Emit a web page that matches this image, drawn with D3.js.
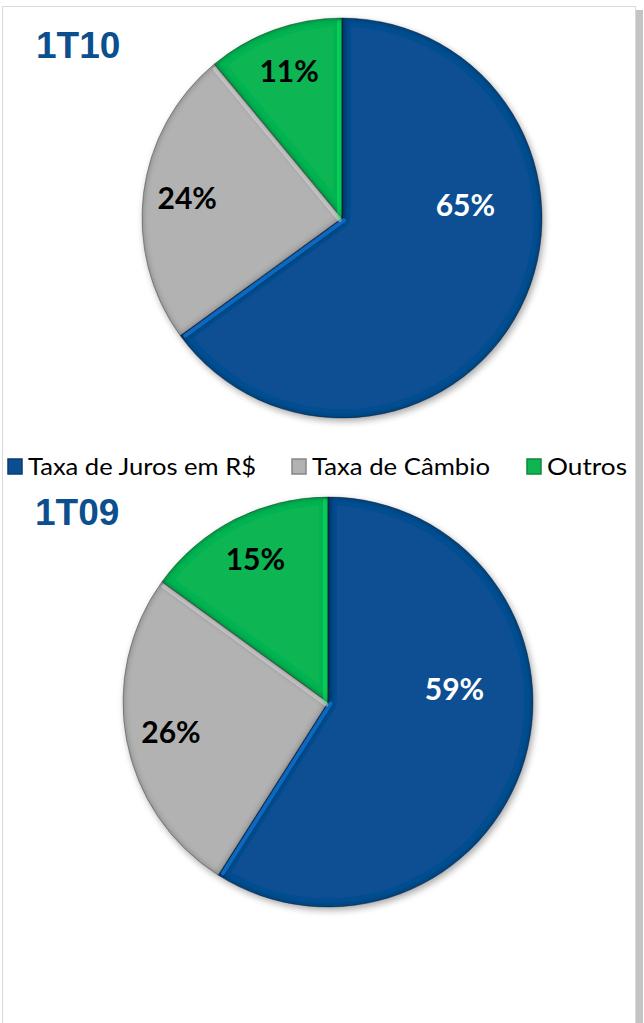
<!DOCTYPE html>
<html>
<head>
<meta charset="utf-8">
<script src="https://cdn.jsdelivr.net/npm/d3@7"></script>
<style>
  body { margin: 0; background: #fff; }
  svg { display: block; }
</style>
</head>
<body>
<svg id="chart" width="644" height="1023"></svg>
<script>
// categories and values
const categories = ["Taxa de Juros em R$", "Taxa de Câmbio", "Outros"];
const colors = ["#0b4f92", "#b2b2b2", "#10b552"];
const labelColors = ["#ffffff", "#000000", "#000000"];
const periods = ["1T10", "1T09"];
const values1T10 = [65, 24, 11];
const values1T09 = [59, 26, 15];

const svg = d3.select("#chart");
const defs = svg.append("defs");

// drop shadow + inner edge darkening, rough stand-in for the excel bevel
const f = defs.append("filter").attr("id", "bevel")
  .attr("x", "-10%").attr("y", "-10%").attr("width", "120%").attr("height", "120%");
f.append("feGaussianBlur").attr("in", "SourceAlpha").attr("stdDeviation", 3.5).attr("result", "blur");
f.append("feComposite").attr("in", "SourceAlpha").attr("in2", "blur").attr("operator", "out").attr("result", "edge");
f.append("feFlood").attr("flood-color", "#000").attr("flood-opacity", 0.7).attr("result", "dark");
f.append("feComposite").attr("in", "dark").attr("in2", "edge").attr("operator", "in").attr("result", "inner");
f.append("feOffset").attr("in", "blur").attr("dx", 2).attr("dy", 3).attr("result", "off");
f.append("feComponentTransfer").attr("in", "off").attr("result", "shadow")
  .append("feFuncA").attr("type", "linear").attr("slope", 0.35);
const m = f.append("feMerge");
m.append("feMergeNode").attr("in", "shadow");
m.append("feMergeNode").attr("in", "SourceGraphic");
m.append("feMergeNode").attr("in", "inner");

// outer frame with shadow on the right
svg.append("rect").attr("x", 636).attr("y", 10).attr("width", 7).attr("height", 1013)
  .attr("fill", "#c4c4c4");
svg.append("rect").attr("x", 2.5).attr("y", 6.5).attr("width", 633).attr("height", 1030)
  .attr("fill", "#fff").attr("stroke", "#d9d9d9").attr("stroke-width", 1);

const pie = d3.pie().sort(null).value(d => d);

function drawPie(values, title, cx, cy, r, titleX, titleY) {
  const g = svg.append("g").attr("transform", `translate(${cx},${cy})`);
  const arcs = pie(values);
  const arc = d3.arc().innerRadius(0).outerRadius(r);

  g.selectAll("path.slice")
    .data(arcs)
    .enter()
    .append("path")
    .attr("class", "slice")
    .attr("d", arc)
    .attr("fill", (d, i) => colors[i])
    .attr("stroke", "rgba(0,0,0,0.25)")
    .attr("stroke-width", 1)
    .attr("filter", "url(#bevel)");

  // light highlight on the leading edge of each slice
  g.selectAll("line.hl")
    .data(arcs)
    .enter()
    .append("line")
    .attr("class", "hl")
    .attr("x1", 0).attr("y1", 0)
    .attr("x2", d => Math.sin(d.endAngle) * (r - 4))
    .attr("y2", d => -Math.cos(d.endAngle) * (r - 4))
    .attr("stroke", (d, i) => d3.color(colors[i]).brighter(0.9))
    .attr("stroke-width", 4)
    .attr("stroke-linecap", "round")
    .attr("opacity", (d, i) => i === 0 ? 0.9 : 0.4)
    .attr("transform", d => {
      const a = d.endAngle - 0.03;
      return `translate(${Math.sin(a + Math.PI / 2) * -3},${-Math.cos(a + Math.PI / 2) * -3})`;
    });

  g.selectAll("text.lbl")
    .data(arcs)
    .enter()
    .append("text")
    .attr("class", "lbl")
    .attr("transform", d => {
      const big = d.endAngle - d.startAngle > Math.PI;
      const a = big ? Math.PI / 2 - 0.1 : (d.startAngle + d.endAngle) / 2;
      const rr = big ? r * 0.62 : r * 0.78;
      return `translate(${Math.sin(a) * rr},${-Math.cos(a) * rr})`;
    })
    .attr("text-anchor", "middle")
    .attr("dy", "0.36em")
    .attr("fill", (d, i) => labelColors[i])
    .style("font-family", "Lato, 'Open Sans', sans-serif")
    .style("font-weight", "bold")
    .style("font-size", "30px")
    .text(d => d.data + "%");

  svg.append("text")
    .attr("x", titleX).attr("y", titleY)
    .attr("fill", "#0b4f8f")
    .style("font-family", "'Liberation Sans', Arial, sans-serif")
    .style("font-weight", "bold")
    .style("font-size", "37px")
    .text(title);
}

drawPie(values1T10, periods[0], 342, 218, 200, 36, 58);
drawPie(values1T09, periods[1], 328, 702, 205, 35, 525);

// legend
const legendX = [8, 292, 527];
const legendW = [228, 178, 80];
const leg = svg.append("g").attr("transform", "translate(0,467)");
categories.forEach((c, i) => {
  const li = leg.append("g").attr("transform", `translate(${legendX[i]},0)`);
  li.append("rect").attr("x", 0).attr("y", -8).attr("width", 14).attr("height", 15)
    .attr("fill", colors[i]).attr("stroke", d3.color(colors[i]).darker(0.8)).attr("stroke-width", 1.5);
  li.append("text")
    .attr("x", 20).attr("y", 0).attr("dy", "0.35em")
    .attr("fill", "#000")
    .attr("textLength", legendW[i])
    .attr("lengthAdjust", "spacingAndGlyphs")
    .style("font-family", "Lato, 'Open Sans', sans-serif")
    .style("font-size", "24px")
    .text(c);
});
</script>
</body>
</html>
